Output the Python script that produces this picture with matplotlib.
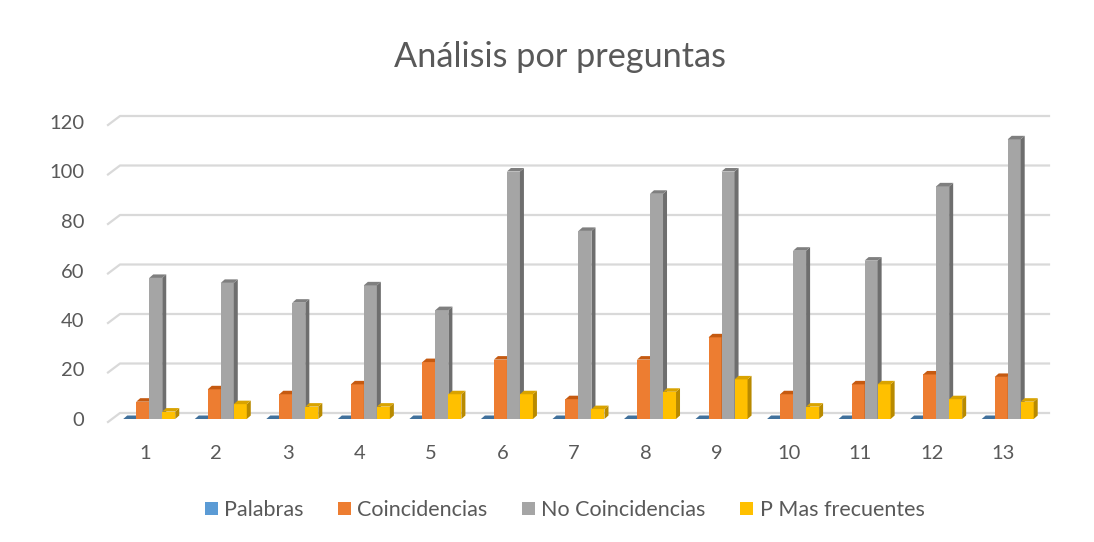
import numpy as np
import matplotlib
matplotlib.use("Agg")
import matplotlib.pyplot as plt
from matplotlib.patches import Polygon, Patch

# data
preguntas = ["1", "2", "3", "4", "5", "6", "7", "8", "9", "10", "11", "12", "13"]
series = ["Palabras", "Coincidencias", "No Coincidencias", "P Mas frecuentes"]
palabras = [0, 0, 0, 0, 0, 0, 0, 0, 0, 0, 0, 0, 0]
coincidencias = [7, 12, 10, 14, 23, 24, 8, 24, 33, 10, 14, 18, 17]
no_coincidencias = [57, 55, 47, 54, 44, 100, 76, 91, 100, 68, 64, 94, 113]
p_mas_frecuentes = [3, 6, 5, 5, 10, 10, 4, 11, 16, 5, 14, 8, 7]
y_ticks = [0, 20, 40, 60, 80, 100, 120]

FRONT = ["#5B9BD5", "#ED7D31", "#A5A5A5", "#FFC000"]
TOP = ["#41719C", "#C55A11", "#7F7F7F", "#D9A300"]
SIDE = ["#2E5A86", "#AE5A21", "#6E6E6E", "#B88A00"]
TXT = "#595959"
GRID = "#D9D9D9"

plt.rcParams["font.family"] = ["Lato", "DejaVu Sans"]

W, H = 1094, 542
fig = plt.figure(figsize=(W / 100, H / 100), dpi=100)
# axes placed so that x 0.5..13.5 spans the category band, y 0..120 the front plane
ax = fig.add_axes([109 / W, (H - 419) / H, 930 / W, 297 / H])
ax.set_xlim(0.5, 13.5)
ax.set_ylim(0, 120)

px_x = 13.0 / 930      # data units per pixel
px_y = 120.0 / 297
dx, dy = 4 * px_x, 3.5 * px_y    # 3-D depth of the bars
w = 13 * px_x                     # bar width

# back-wall gridlines with the slanted side-wall piece
for t in y_ticks:
    ax.plot([0.5 - 1 * px_x, 0.5 + 11 * px_x, 13.5 + 10 * px_x],
            [t - 3 * px_y, t + 6 * px_y, t + 6 * px_y],
            color=GRID, lw=1.6, clip_on=False, zorder=0)

x = np.arange(1, len(preguntas) + 1)
values = [palabras, coincidencias, no_coincidencias, p_mas_frecuentes]
offsets = [-0.21 + i * w for i in range(4)]

for i, vals in enumerate(values):
    for xc, v in zip(x, vals):
        x0 = xc + offsets[i] - w / 2
        z = 2 + i
        if v > 0:
            ax.bar(x0, v, width=w, align="edge", color=FRONT[i], lw=0, zorder=z)
            ax.add_patch(Polygon([(x0 + w, 0), (x0 + w + dx, dy), (x0 + w + dx, v + dy), (x0 + w, v)],
                                 closed=True, color=SIDE[i], lw=0, zorder=z))
        ax.add_patch(Polygon([(x0, v), (x0 + dx, v + dy), (x0 + w + dx, v + dy), (x0 + w, v)],
                             closed=True, color=TOP[i], lw=0, zorder=z, clip_on=False))

ax.set_xticks(x)
ax.set_xticklabels(preguntas)
ax.set_yticks(y_ticks)
ax.tick_params(axis="both", length=0, labelsize=14.5, labelcolor=TXT)
ax.tick_params(axis="x", pad=19)
ax.tick_params(axis="y", pad=18)
for s in ax.spines.values():
    s.set_visible(False)

fig.text(0.512, 1 - 57 / H, "Análisis por preguntas", ha="center", va="center",
         fontsize=24.7, color=TXT)

handles = [Patch(facecolor=c, edgecolor="none") for c in FRONT]
fig.legend(handles, series, loc="center", bbox_to_anchor=(0.516, 1 - 510 / H),
           ncol=4, frameon=False, fontsize=15.5, labelcolor=TXT,
           handlelength=0.6, handleheight=0.6, handletextpad=0.3, columnspacing=1.6)

fig.savefig("out.png", dpi=100, facecolor="white")
